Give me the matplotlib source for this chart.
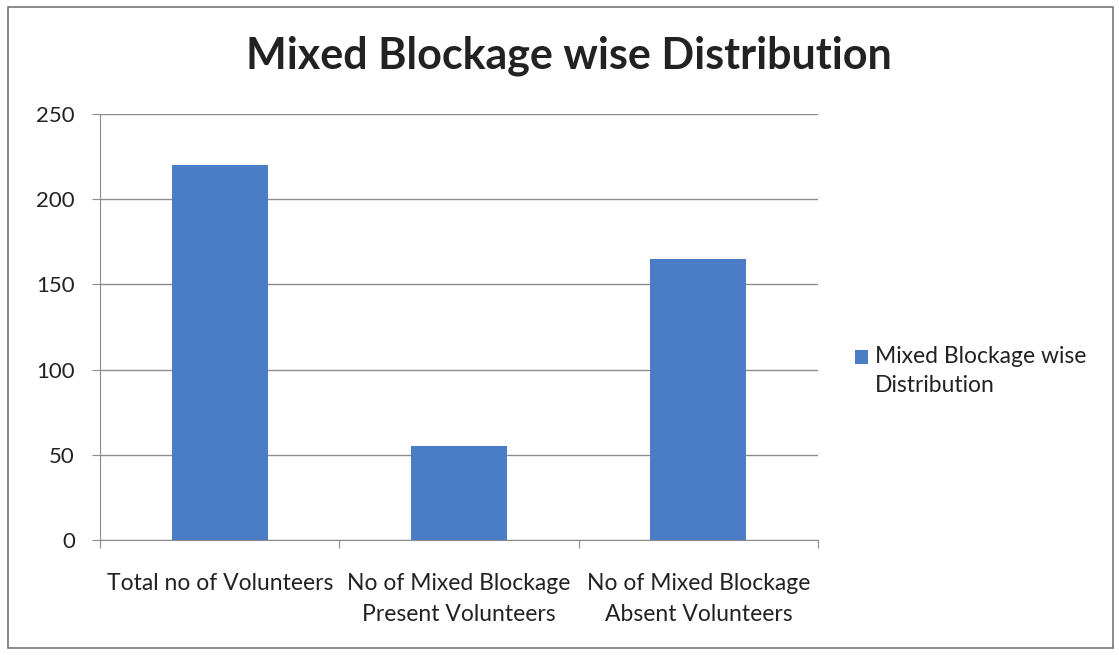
import matplotlib.pyplot as plt
import matplotlib.patches as patches
from matplotlib.container import BarContainer
from matplotlib.legend_handler import HandlerPatch

categories = ["Total no of Volunteers",
              "No of Mixed Blockage\nPresent Volunteers",
              "No of Mixed Blockage\nAbsent Volunteers"]
values = [220, 55, 165]
series_name = "Mixed Blockage wise\nDistribution"
yticks = [0, 50, 100, 150, 200, 250]

plt.rcParams['font.family'] = ['Lato', 'DejaVu Sans']

fig = plt.figure(figsize=(11.19, 6.55), dpi=100)
ax = fig.add_axes([0.0894, 0.1756, 0.6416, 0.6504])

x = range(len(categories))
ax.bar(x, values, width=0.4, color='#4a7dc6', zorder=3, label=series_name)

ax.set_xlim(-0.5, 2.5)
ax.set_ylim(0, 250)
ax.set_yticks(yticks)
ax.yaxis.grid(True, color='#8c8c8c', linewidth=1, zorder=0)

# category labels between boundary ticks
ax.set_xticks([i - 0.5 for i in range(len(categories) + 1)])
ax.set_xticklabels([])
ax.set_xticks(list(x), minor=True)
ax.set_xticklabels(categories, minor=True, fontsize=16.5, color='#222222',
                   linespacing=1.6, va='top')
ax.tick_params(axis='x', which='minor', length=0, pad=23.5)
ax.tick_params(axis='x', which='major', length=6, color='#8c8c8c')
ax.tick_params(axis='y', length=6, color='#8c8c8c', labelsize=16,
               labelcolor='#222222', pad=12)

for s in ['top', 'right']:
    ax.spines[s].set_visible(False)
for s in ['left', 'bottom']:
    ax.spines[s].set_color('#8c8c8c')

fig.text(0.508, 0.915, "Mixed Blockage wise Distribution", ha='center',
         va='center', fontsize=31, fontweight='bold', color='#222222')


# legend square sits next to the first line of the label, like Excel
def top_square(legend, orig_handle, xdescent, ydescent, width, height, fontsize):
    return patches.Rectangle((-xdescent, -ydescent + 10), width, height)


square = HandlerPatch(patch_func=top_square,
                      update_func=lambda h, orig: h.update_from(orig.patches[0]))
leg = fig.legend(loc='center left', bbox_to_anchor=(0.746, 0.434),
                 frameon=False, fontsize=16.5, handlelength=0.55,
                 handleheight=0.55, handletextpad=0.3, labelcolor='#222222',
                 handler_map={BarContainer: square})
for t in leg.get_texts():
    t.set_linespacing(1.45)

fig.patches.append(patches.Rectangle((0.007, 0.01), 0.988, 0.98,
                                     transform=fig.transFigure, fill=False,
                                     edgecolor='#777777', linewidth=1.2))

fig.savefig("out.png", dpi=100)
